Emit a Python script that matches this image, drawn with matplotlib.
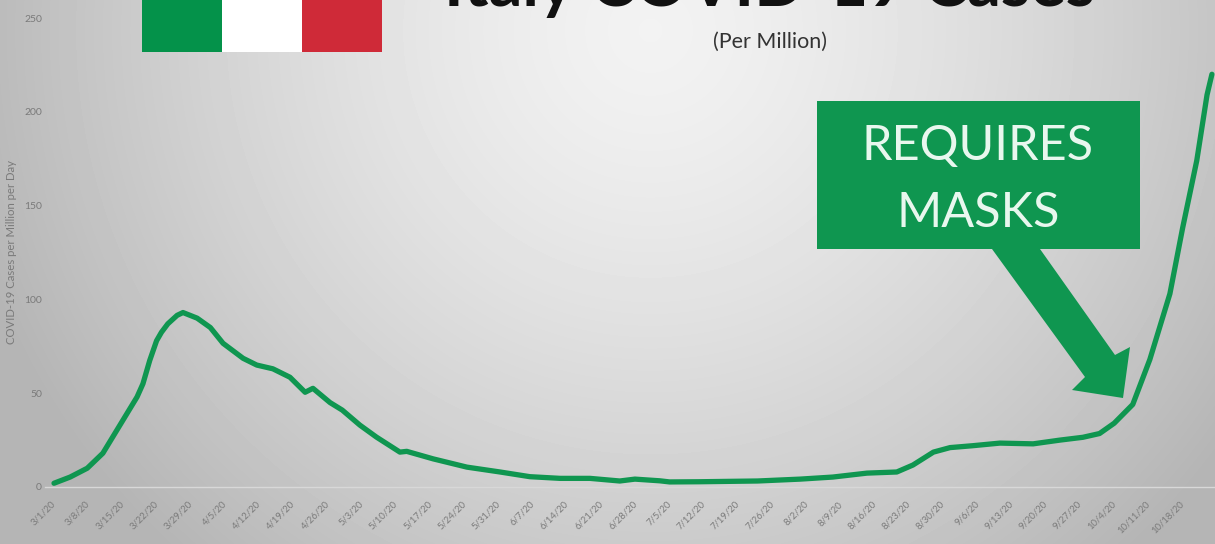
"""Italy COVID-19 daily cases per million, with the mask requirement called out."""
import matplotlib
matplotlib.use("Agg")
import matplotlib.pyplot as plt
import numpy as np
from matplotlib.patches import Polygon, Rectangle
from matplotlib.transforms import Affine2D, ScaledTranslation

W, H = 1215, 544

TICK_LABELS = ["3/1/20", "3/8/20", "3/15/20", "3/22/20", "3/29/20", "4/5/20", "4/12/20",
               "4/19/20", "4/26/20", "5/3/20", "5/10/20", "5/17/20", "5/24/20", "5/31/20",
               "6/7/20", "6/14/20", "6/21/20", "6/28/20", "7/5/20", "7/12/20", "7/19/20",
               "7/26/20", "8/2/20", "8/9/20", "8/16/20", "8/23/20", "8/30/20", "9/6/20",
               "9/13/20", "9/20/20", "9/27/20", "10/4/20", "10/11/20", "10/18/20"]
Y_TICKS = [0, 50, 100, 150, 200, 250]

# days since 3/1/20 and the 7-day average of cases per million
DAYS = [0, 3.3, 6.8, 10, 13.5, 17, 18.2, 19.6, 21, 22, 23.3, 25.2, 26.4, 29.3, 32, 34.6,
        38.7, 41.5, 44.8, 48.3, 51.4, 53, 56.5, 59, 62.6, 66, 70.8, 72.2, 77.6, 84.5, 91.3,
        97.4, 103.6, 109.7, 115.8, 118.9, 124, 126, 132, 144, 152.7, 159.4, 166.4, 172.5,
        175.8, 180, 183.4, 188, 193.6, 200.4, 205.9, 210.6, 214, 217, 220.8, 224.3, 228.4,
        231, 233.9, 236, 237]
CASES = [2, 5.3, 10, 18, 33, 48, 55, 67.5, 78, 82.5, 87, 91.5, 93, 90, 85, 76.6,
         68.6, 65, 63, 58.5, 50.5, 52.6, 45, 41, 33, 26.6, 18.6, 19, 15, 10.6, 8,
         5.5, 4.6, 4.6, 3.2, 4.2, 3.3, 2.7, 2.8, 3.2, 4.2, 5.3, 7.4, 8,
         11.7, 18.6, 21, 22, 23.4, 23, 25, 26.5, 28.5, 34, 44, 68, 103,
         138, 174, 209, 220]

GREEN = "#0f9650"


def gradient_background(fig):
    # broad elliptical highlight behind the upper middle of the slide
    yy, xx = np.mgrid[0:H, 0:W]
    r = np.hypot((xx - 650) / 640, (yy - 30) / 640)
    shade = np.clip(0.95 - 0.21 * r ** 1.4, 0.71, 1)
    bg = fig.add_axes([0, 0, 1, 1], zorder=0)
    bg.imshow(shade, cmap="gray", vmin=0, vmax=1, aspect="auto")
    bg.axis("off")


def main():
    plt.rcParams["font.family"] = ["Lato", "DejaVu Sans"]
    fig = plt.figure(figsize=(W / 100, H / 100), dpi=100)
    gradient_background(fig)

    # chart area: 0 sits at y=487px, 250 at y=18px
    left, right, top, bottom = 45, 1215, 18, 487
    ax = fig.add_axes([left / W, 1 - bottom / H, (right - left) / W, (bottom - top) / H], zorder=1)
    ax.patch.set_alpha(0)
    px_per_day = 34.2 / 7
    ax.set_xlim((left - 54) / px_per_day, (right - 54) / px_per_day)
    ax.set_ylim(0, 250)
    for name, spine in ax.spines.items():
        spine.set_visible(name == "bottom")
    ax.spines["bottom"].set_color("#d8d8d8")
    ax.spines["bottom"].set_linewidth(1.0)

    ax.plot(DAYS, CASES, color=GREEN, lw=3.8, solid_capstyle="round", solid_joinstyle="round",
            zorder=3)

    ax.set_xticks(np.arange(len(TICK_LABELS)) * 7)
    ax.set_xticklabels(TICK_LABELS, rotation=45, ha="right", rotation_mode="anchor",
                       fontsize=6.8, color="#7a7a7a")
    ax.set_yticks(Y_TICKS)
    ax.set_yticklabels(Y_TICKS, fontsize=7.5, color="#7a7a7a")
    ax.tick_params(length=0, pad=2.2)
    ax.tick_params(axis="x", pad=9)
    shift = ScaledTranslation(-3 / 100, 0, fig.dpi_scale_trans)
    for tick in ax.get_xticklabels():
        tick.set_transform(tick.get_transform() + shift)

    # slide furniture placed in pixel coordinates from the top-left corner
    px = Affine2D().scale(1, -1).translate(0, H)

    for x0, color in zip((142, 222, 302), ("#04924a", "#ffffff", "#cf2a38")):
        fig.add_artist(Rectangle((x0, 0), 80, 52, transform=px, color=color, lw=0, zorder=2))

    fig.add_artist(Rectangle((817, 101), 323, 148, transform=px, color=GREEN, lw=0, zorder=2))
    fig.add_artist(Polygon([(992, 249), (1040, 249), (1115, 355), (1130, 347), (1123, 398),
                            (1072, 390), (1085, 377)], closed=True, transform=px,
                           color=GREEN, lw=0, zorder=2))

    def label(x, y, text, **kw):
        fig.text(x / W, 1 - y / H, text, ha="center", va="center", zorder=4, **kw)

    label(978, 146, "REQUIRES", fontsize=35, color="#e8f7ee")
    label(978, 213, "MASKS", fontsize=35, color="#e8f7ee")
    label(770, 42, "(Per Million)", fontsize=15.5, color="#333333")
    fig.text(770 / W, 1 - 6 / H, "Italy COVID-19 Cases", ha="center", va="baseline",
             fontsize=48, fontweight="bold", color="#111111", zorder=4)
    label(12, 252, "COVID-19 Cases per Million per Day", fontsize=8.2, color="#7a7a7a",
          rotation=90)

    fig.savefig("out.png", dpi=100)
    plt.close(fig)


if __name__ == "__main__":
    main()
